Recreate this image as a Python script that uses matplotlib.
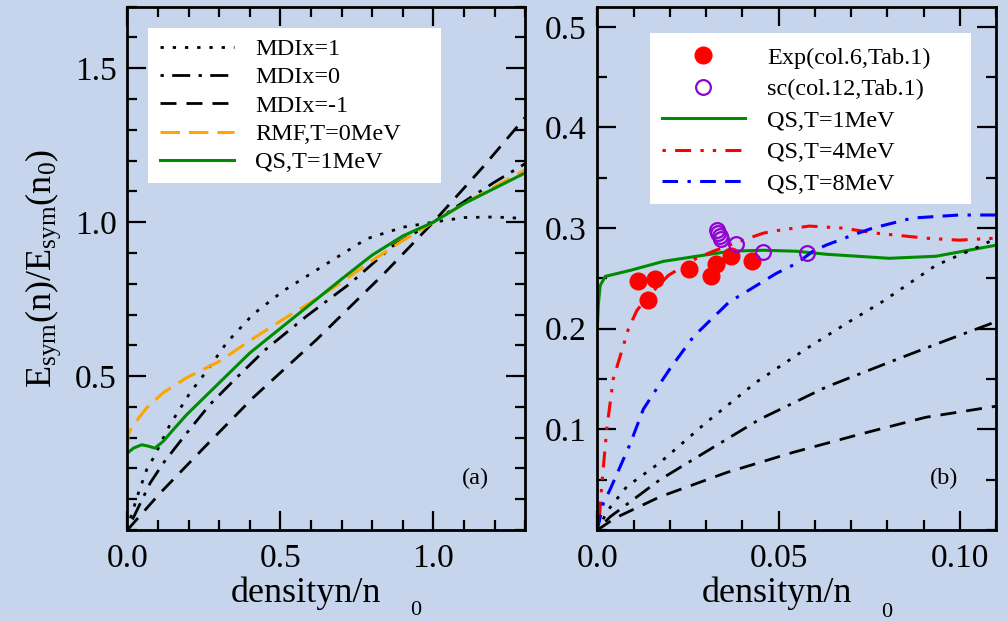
import matplotlib
matplotlib.use('Agg')
import matplotlib.pyplot as plt
from matplotlib.patches import Rectangle
from matplotlib.ticker import FixedLocator, MultipleLocator

# ---------------- data: panel (a) ----------------
a_mdi1_x = [0, 0.008, 0.036, 0.063, 0.085, 0.139, 0.205, 0.259, 0.325, 0.411, 0.51, 0.64, 0.782, 0.902, 1.0, 1.1, 1.2, 1.3]
a_mdi1_y = [0, 0.033, 0.12, 0.196, 0.234, 0.342, 0.446, 0.516, 0.609, 0.701, 0.777, 0.858, 0.946, 0.984, 1.0, 1.015, 1.017, 1.012]

a_mdi0_x = [0, 0.074, 0.117, 0.194, 0.27, 0.357, 0.45, 0.586, 0.727, 0.869, 1.0, 1.098, 1.2, 1.3]
a_mdi0_y = [0, 0.152, 0.217, 0.315, 0.408, 0.495, 0.585, 0.695, 0.80, 0.924, 1.0, 1.065, 1.13, 1.19]

a_mdim1_x = [0, 0.107, 0.248, 0.411, 0.62, 0.836, 1.0, 1.163, 1.3]
a_mdim1_y = [0, 0.12, 0.265, 0.43, 0.62, 0.83, 1.0, 1.18, 1.34]

a_rmf_x = [0, 0.003, 0.012, 0.025, 0.063, 0.117, 0.194, 0.303, 0.4, 0.51, 0.6, 0.7, 0.8, 0.9, 1.0, 1.1, 1.2, 1.3]
a_rmf_y = [0.27, 0.31, 0.33, 0.348, 0.397, 0.446, 0.495, 0.549, 0.615, 0.685, 0.74, 0.805, 0.875, 0.94, 1.0, 1.06, 1.115, 1.17]

a_qs1_x = [0, 0.02, 0.047, 0.07, 0.09, 0.117, 0.15, 0.194, 0.3, 0.4, 0.5, 0.6, 0.7, 0.8, 0.9, 1.0, 1.1, 1.2, 1.3]
a_qs1_y = [0.25, 0.266, 0.277, 0.272, 0.266, 0.288, 0.326, 0.375, 0.478, 0.575, 0.655, 0.735, 0.815, 0.893, 0.955, 1.0, 1.06, 1.11, 1.16]

# ---------------- data: panel (b) ----------------
b_exp_x = [0.0111, 0.0158, 0.0140, 0.0254, 0.0314, 0.0328, 0.0369, 0.0426]
b_exp_y = [0.247, 0.249, 0.229, 0.259, 0.252, 0.264, 0.272, 0.267]

b_sc_x = [0.0329, 0.0334, 0.0338, 0.0341, 0.0384, 0.0458, 0.0579]
b_sc_y = [0.298, 0.295, 0.292, 0.289, 0.284, 0.276, 0.275]

b_qs1_x = [0, 0.0003, 0.0008, 0.0022, 0.0091, 0.0183, 0.0274, 0.0366, 0.0458, 0.055, 0.0632, 0.0805, 0.0934, 0.11]
b_qs1_y = [0.2, 0.225, 0.243, 0.252, 0.258, 0.267, 0.272, 0.277, 0.278, 0.277, 0.274, 0.27, 0.272, 0.283]

b_qs4_x = [0, 0.0006, 0.0012, 0.0026, 0.0044, 0.0086, 0.0109, 0.014, 0.0196, 0.0274, 0.032, 0.0371, 0.0458, 0.0504, 0.0585, 0.0677, 0.0769, 0.0906, 0.0998, 0.11]
b_qs4_y = [0, 0.013, 0.043, 0.10, 0.15, 0.20, 0.218, 0.232, 0.253, 0.27, 0.277, 0.284, 0.295, 0.298, 0.302, 0.30, 0.295, 0.29, 0.288, 0.29]

b_qs8_x = [0, 0.0017, 0.0035, 0.009, 0.0127, 0.0163, 0.02, 0.0265, 0.0302, 0.0365, 0.0394, 0.0494, 0.055, 0.0595, 0.0631, 0.0704, 0.076, 0.087, 0.0998, 0.11]
b_qs8_y = [0, 0.027, 0.04, 0.085, 0.12, 0.14, 0.16, 0.192, 0.205, 0.227, 0.233, 0.255, 0.265, 0.277, 0.283, 0.293, 0.30, 0.31, 0.313, 0.313]

b_mdi1_x = [0, 0.003, 0.0081, 0.0173, 0.0301, 0.0439, 0.0576, 0.0695, 0.0787, 0.0934, 0.1062, 0.11]
b_mdi1_y = [0, 0.02, 0.043, 0.067, 0.107, 0.147, 0.18, 0.207, 0.227, 0.263, 0.283, 0.29]

b_mdi0_x = [0, 0.0035, 0.0173, 0.031, 0.0448, 0.0631, 0.0815, 0.0952, 0.11]
b_mdi0_y = [0, 0.013, 0.05, 0.08, 0.11, 0.142, 0.168, 0.187, 0.207]

b_mdim1_x = [0, 0.005, 0.0173, 0.0356, 0.0539, 0.0723, 0.0906, 0.11]
b_mdim1_y = [0, 0.012, 0.033, 0.057, 0.077, 0.095, 0.112, 0.123]

# ---------------- ticks / labels ----------------
a_xticks = [0.0, 0.5, 1.0]
a_xticklabels = ['0.0', '0.5', '1.0']
a_yticks = [0.5, 1.0, 1.5]
a_yticklabels = ['0.5', '1.0', '1.5']
b_xticks = [0.0, 0.05, 0.10]
b_xticklabels = ['0.0', '0.05', '0.10']
b_yticks = [0.1, 0.2, 0.3, 0.4, 0.5]
b_yticklabels = ['0.1', '0.2', '0.3', '0.4', '0.5']

labels_a = ['MDIx=1', 'MDIx=0', 'MDIx=-1', 'RMF,T=0MeV', 'QS,T=1MeV']
labels_b = ['Exp(col.6,Tab.1)', 'sc(col.12,Tab.1)', 'QS,T=1MeV', 'QS,T=4MeV', 'QS,T=8MeV']
ylabel_text = r'E$_{\mathrm{sym}}$(n)/E$_{\mathrm{sym}}$(n$_{0}$)'
xlabel_main = 'densityn/n'
xlabel_sub = '0'

# ---------------- style ----------------
plt.rcParams['font.family'] = ['Liberation Serif', 'DejaVu Serif']
plt.rcParams['mathtext.fontset'] = 'custom'
plt.rcParams['mathtext.rm'] = 'Liberation Serif'
plt.rcParams['mathtext.it'] = 'Liberation Serif:italic'
plt.rcParams['mathtext.bf'] = 'Liberation Serif:bold'
plt.rcParams['lines.scale_dashes'] = False

BG = '#c6d4ec'
GREEN = '#008c00'
ORANGE = '#ffa500'
RED = '#ff0000'
BLUE = '#0000ff'
VIOLET = '#9400d3'

LS_DOT = (0, (2.4, 6.4))
LS_DASHDOT = (0, (2.4, 6.0, 13.0, 6.0))
LS_DASH = (0, (11.5, 7.2))
LS_ORANGE = (0, (14.0, 6.5))
LS_RED = (0, (2.4, 6.7, 11.5, 6.7, 2.4, 6.5))
LS_BLUE = (0, (11.2, 6.8, 2.4, 6.7, 11.3, 6.7))

W, H = 1008, 621
fig = plt.figure(figsize=(W / 100, H / 100), dpi=100, facecolor=BG)


def axrect(x0, x1, y0, y1):
    return [x0 / W, 1 - y1 / H, (x1 - x0) / W, (y1 - y0) / H]


axL = fig.add_axes(axrect(127.4, 525.1, 6.7, 530))
axR = fig.add_axes(axrect(597.3, 996, 6.7, 530))

for ax in (axL, axR):
    ax.set_facecolor(BG)
    for s in ax.spines.values():
        s.set_linewidth(2.0)
    ax.tick_params(which='both', direction='in', top=True, right=True,
                   labelsize=24, width=1.6)
    ax.tick_params(which='major', length=14)
    ax.tick_params(which='minor', length=7)
    ax.tick_params(axis='x', pad=10)
    ax.tick_params(axis='y', pad=7.5)

LWK = 2.0
LWC = 2.2

# ---- panel (a) ----
lA1, = axL.plot(a_mdi1_x, a_mdi1_y, color='black', lw=LWK, ls=LS_DOT)
lA2, = axL.plot(a_mdi0_x, a_mdi0_y, color='black', lw=LWK, ls=LS_DASHDOT)
lA3, = axL.plot(a_mdim1_x, a_mdim1_y, color='black', lw=LWK, ls=LS_DASH)
lA4, = axL.plot(a_rmf_x, a_rmf_y, color=ORANGE, lw=LWC, ls=LS_ORANGE)
lA5, = axL.plot(a_qs1_x, a_qs1_y, color=GREEN, lw=LWC, ls='-')

axL.set_xlim(0, 1.3)
axL.set_ylim(0, 1.7)
axL.xaxis.set_major_locator(FixedLocator(a_xticks))
axL.set_xticklabels(a_xticklabels)
axL.xaxis.set_minor_locator(MultipleLocator(0.1))
axL.yaxis.set_major_locator(FixedLocator(a_yticks))
axL.set_yticklabels(a_yticklabels)
axL.yaxis.set_minor_locator(MultipleLocator(0.1))

axL.set_ylabel(ylabel_text, fontsize=26)
axL.yaxis.set_label_coords(-0.162, 0.5)

axL.add_patch(Rectangle((0.0518, 0.6625), 0.7885 - 0.0518, 0.9587 - 0.6625,
                        transform=axL.transAxes, facecolor='white',
                        edgecolor='none', zorder=4))
legA = axL.legend([lA1, lA2, lA3, lA4, lA5], labels_a, loc='upper left',
                  bbox_to_anchor=(0.082, 0.940), borderpad=0, borderaxespad=0,
                  frameon=False, fontsize=17.5, handlelength=3.05,
                  handletextpad=0.86, labelspacing=0.26)
legA.set_zorder(5)
axL.text(0.876, 0.098, '(a)', transform=axL.transAxes, fontsize=17.5,
         ha='center', va='center', zorder=5)

# ---- panel (b) ----
lB3, = axR.plot(b_qs1_x, b_qs1_y, color=GREEN, lw=LWC, ls='-', zorder=2)
lB4, = axR.plot(b_qs4_x, b_qs4_y, color=RED, lw=LWC, ls=LS_RED, zorder=2)
lB5, = axR.plot(b_qs8_x, b_qs8_y, color=BLUE, lw=LWC, ls=LS_BLUE, zorder=2)
axR.plot(b_mdi1_x, b_mdi1_y, color='black', lw=LWK, ls=LS_DOT, zorder=2)
axR.plot(b_mdi0_x, b_mdi0_y, color='black', lw=LWK, ls=LS_DASHDOT, zorder=2)
axR.plot(b_mdim1_x, b_mdim1_y, color='black', lw=LWK, ls=LS_DASH, zorder=2)
lB1, = axR.plot(b_exp_x, b_exp_y, ls='none', marker='o', ms=12,
                color=RED, mec=RED, zorder=3)
lB2, = axR.plot(b_sc_x, b_sc_y, ls='none', marker='o', ms=10.6,
                mfc='none', mec=VIOLET, mew=1.6, zorder=3)

axR.set_xlim(0, 0.11)
axR.set_ylim(0, 0.52)
axR.xaxis.set_major_locator(FixedLocator(b_xticks))
axR.set_xticklabels(b_xticklabels)
axR.xaxis.set_minor_locator(MultipleLocator(0.01))
axR.yaxis.set_major_locator(FixedLocator(b_yticks))
axR.set_yticklabels(b_yticklabels)
axR.yaxis.set_minor_locator(MultipleLocator(0.05))

axR.add_patch(Rectangle((0.1322, 0.623), 0.9365 - 0.1322, 0.9492 - 0.623,
                        transform=axR.transAxes, facecolor='white',
                        edgecolor='none', zorder=4))
legB = axR.legend([lB1, lB2, lB3, lB4, lB5], labels_b, loc='upper left',
                  bbox_to_anchor=(0.1615, 0.9237), borderpad=0, borderaxespad=0,
                  frameon=False, fontsize=17.5, handlelength=3.42,
                  handletextpad=0.92, labelspacing=0.39, numpoints=1)
legB.set_zorder(5)
axR.text(0.869, 0.098, '(b)', transform=axR.transAxes, fontsize=17.5,
         ha='center', va='center', zorder=5)

# ---- x labels (main text + detached subscript) ----
for cx, sx, sub_base in ((305.6, 415.8, 615.0), (776.7, 886.7, 616.7)):
    fig.text(cx / W, 1 - 601.7 / H, xlabel_main, fontsize=26,
             ha='center', va='baseline')
    fig.text(sx / W, 1 - sub_base / H, xlabel_sub, fontsize=16,
             ha='center', va='baseline')

fig.savefig('out.png', dpi=100, facecolor=BG)
